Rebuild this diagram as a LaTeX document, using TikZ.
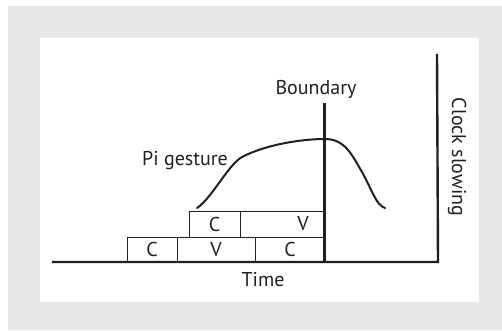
\documentclass[tikz,border=0pt]{standalone}
\usepackage{fontspec}
\setmainfont{PT Sans}
\usepackage{xcolor}
\usetikzlibrary{positioning}
\definecolor{panelgrey}{RGB}{231,232,234}
\definecolor{inkgrey}{RGB}{35,31,32}

\begin{document}
\begin{tikzpicture}[
  x=1pt, y=-1pt,
  every node/.style={font=\fontsize{20}{22}\selectfont, text=inkgrey},
  cell/.style={draw=inkgrey, line width=0.8pt, inner sep=0pt, minimum height=25pt},
  axisline/.style={draw=inkgrey, line width=2.4pt},
  gesture/.style={draw=inkgrey, line width=2pt, line cap=round}
]
\useasboundingbox (0,0) rectangle (502,330);
\fill[panelgrey] (8,6) rectangle (502,330);
\fill[white] (40,38) rectangle (479,302);
% axes
\coordinate (t0) at (53,262);
\coordinate (t1) at (438,262);
\coordinate (ctop) at (437,55);
\coordinate (btop) at (324.5,103);
\coordinate (bbot) at (324.5,262);
% lower row of segments
\node[cell, minimum width=50pt] (c1) at (152,249.5) {C};
\node[cell, minimum width=78pt] (v1) at (216,249.5) {V};
\node[cell, minimum width=70pt] (c2) at (290,249.5) {C};
% upper row of segments
\node[cell, minimum width=51pt, minimum height=26pt] (c3) at (214.5,224) {C};
\node[cell, minimum width=84pt, minimum height=26pt] (v2) at (282,224) {};
\node (v2txt) at (303,224) {V};
\draw[axisline] (btop) -- (bbot);
\draw[axisline, line cap=rect] (t0) -- (t1) -- (ctop);
% gesture curve
\draw[gesture] (197,208) .. controls (212,198) and (228,165) .. (242,157)
  .. controls (265,145) and (300,139) .. (325,139)
  .. controls (345,139) and (352,155) .. (362,172)
  .. controls (372,190) and (376,205) .. (385,208);
\node (pi) at (185,161) {Pi gesture};
\node (bnd) at (316,89) {Boundary};
\node (time) at (263,280) {Time};
\node[rotate=-90] (clock) at (457,157) {Clock slowing};
\end{tikzpicture}
\end{document}
